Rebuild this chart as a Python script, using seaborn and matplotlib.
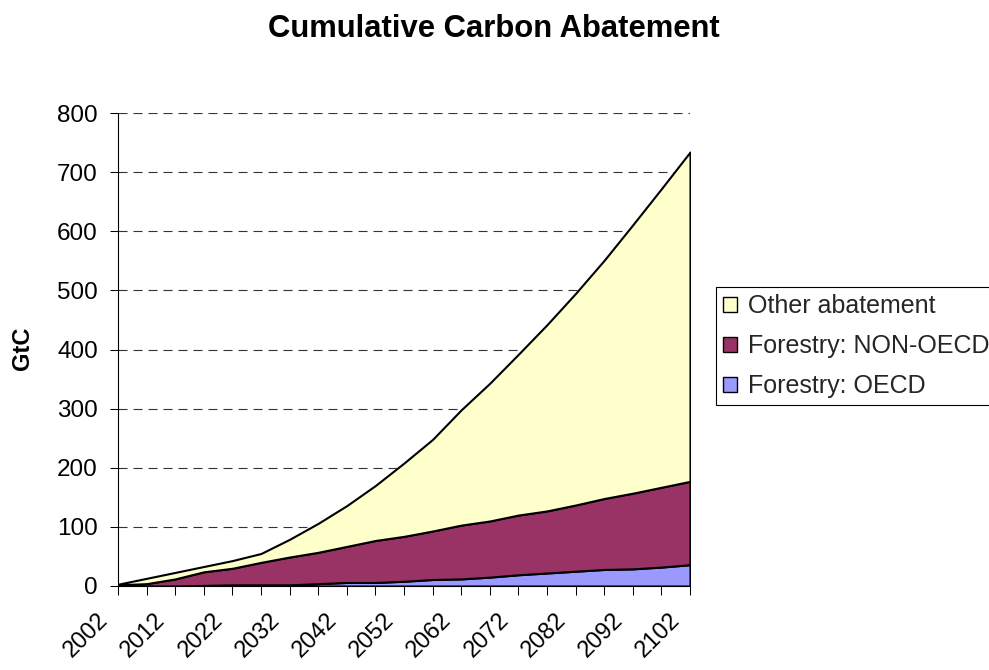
import numpy as np
import pandas as pd
import matplotlib
matplotlib.use("Agg")
import matplotlib.pyplot as plt
import matplotlib.transforms as mtransforms
from matplotlib.patches import Patch
import seaborn as sns

# ---- data (GtC, cumulative) ----
years = [2002, 2007, 2012, 2017, 2022, 2027, 2032, 2037, 2042, 2047, 2052,
         2057, 2062, 2067, 2072, 2077, 2082, 2087, 2092, 2097, 2102]
forestry_oecd = [0, 0, 0, 1, 2, 2, 2, 4, 6, 6, 8,
                 11, 12, 15, 19, 22, 25, 28, 29, 32, 36]
forestry_non_oecd = [2, 4, 12, 23, 28, 38, 47, 53, 61, 71, 76,
                     82, 91, 95, 101, 105, 112, 120, 128, 135, 141]
other_abatement = [1, 9, 11, 9, 13, 15, 30, 49, 69, 93, 124,
                   155, 195, 233, 272, 315, 358, 403, 454, 505, 557]
series_names = ["Forestry: OECD", "Forestry: NON-OECD", "Other abatement"]
series_colors = ["#9999FF", "#993366", "#FFFFCC"]
y_ticks = [0, 100, 200, 300, 400, 500, 600, 700, 800]
x_label_years = years[::2]

sns.set_theme(style="white")
plt.rcParams["font.family"] = ["Liberation Sans", "DejaVu Sans"]
plt.rcParams["lines.scale_dashes"] = False

W, H = 989, 670
fig = plt.figure(figsize=(W / 100, H / 100), dpi=100)
fig.patch.set_facecolor("white")

left_px, right_px, top_px, bottom_px = 118, 690, 113, 586
ax = fig.add_axes([left_px / W, (H - bottom_px) / H,
                   (right_px - left_px) / W, (bottom_px - top_px) / H])
ax.set_facecolor("white")

df = pd.DataFrame({"year": years, series_names[0]: forestry_oecd,
                   series_names[1]: forestry_non_oecd,
                   series_names[2]: other_abatement})

ax.stackplot(df["year"], df[series_names[0]], df[series_names[1]], df[series_names[2]],
             colors=series_colors, edgecolor="black", linewidth=1.5, zorder=3)

ax.set_xlim(years[0], years[-1])
ax.set_ylim(0, 800)
ax.set_yticks(y_ticks)
ax.set_yticklabels([str(v) for v in y_ticks])
ax.set_xticks(x_label_years)
ax.set_xticklabels([str(v) for v in x_label_years])
ax.set_xticks(years, minor=True)

ax.yaxis.grid(True, color="#333333", linestyle=(0, (6.5, 4.3)), linewidth=0.8, zorder=1)
ax.xaxis.grid(False)
ax.set_axisbelow(True)

for s in ["top", "right"]:
    ax.spines[s].set_visible(False)
for s in ["left", "bottom"]:
    ax.spines[s].set_color("black")
    ax.spines[s].set_linewidth(0.8)
    ax.spines[s].set_zorder(4)

ax.tick_params(axis="y", which="major", direction="out", length=6, width=0.75,
               color="black", pad=8.5, labelsize=17.5, labelcolor="black", left=True)
ax.tick_params(axis="x", which="both", direction="out", length=6.5, width=0.75,
               color="black", bottom=True)
ax.tick_params(axis="x", which="major", labelsize=17, labelcolor="black", pad=15.5)

offset = mtransforms.ScaledTranslation(-13 / 100, 0, fig.dpi_scale_trans)
for lab in ax.get_xticklabels():
    lab.set_rotation(45)
    lab.set_ha("right")
    lab.set_va("center")
    lab.set_rotation_mode("anchor")
    lab.set_transform(lab.get_transform() + offset)

ax.set_xlabel("")
ax.set_ylabel("")

fig.text(494 / W, 1 - 37 / H, "Cumulative Carbon Abatement", ha="center", va="baseline",
         fontsize=22.3, fontweight="bold", color="black")
fig.text(22 / W, 1 - 348 / H, "GtC", ha="center", va="center", rotation=90,
         fontsize=17, fontweight="bold", color="black")

handles = [Patch(facecolor=series_colors[i], edgecolor="black", linewidth=1.0,
                 label=series_names[i]) for i in [2, 1, 0]]
leg = fig.legend(handles=handles, loc="upper left",
                 bbox_to_anchor=(716 / W, 1 - 287 / H), bbox_transform=fig.transFigure,
                 fontsize=18, frameon=True, fancybox=False, shadow=False,
                 borderpad=0.28, labelspacing=0.64, handlelength=0.55, handleheight=0.55,
                 handletextpad=0.45, borderaxespad=0)
leg.get_frame().set_edgecolor("black")
leg.get_frame().set_linewidth(0.8)
leg.get_frame().set_facecolor("white")
leg.get_frame().set_alpha(1)

fig.savefig("out.png", dpi=100)
